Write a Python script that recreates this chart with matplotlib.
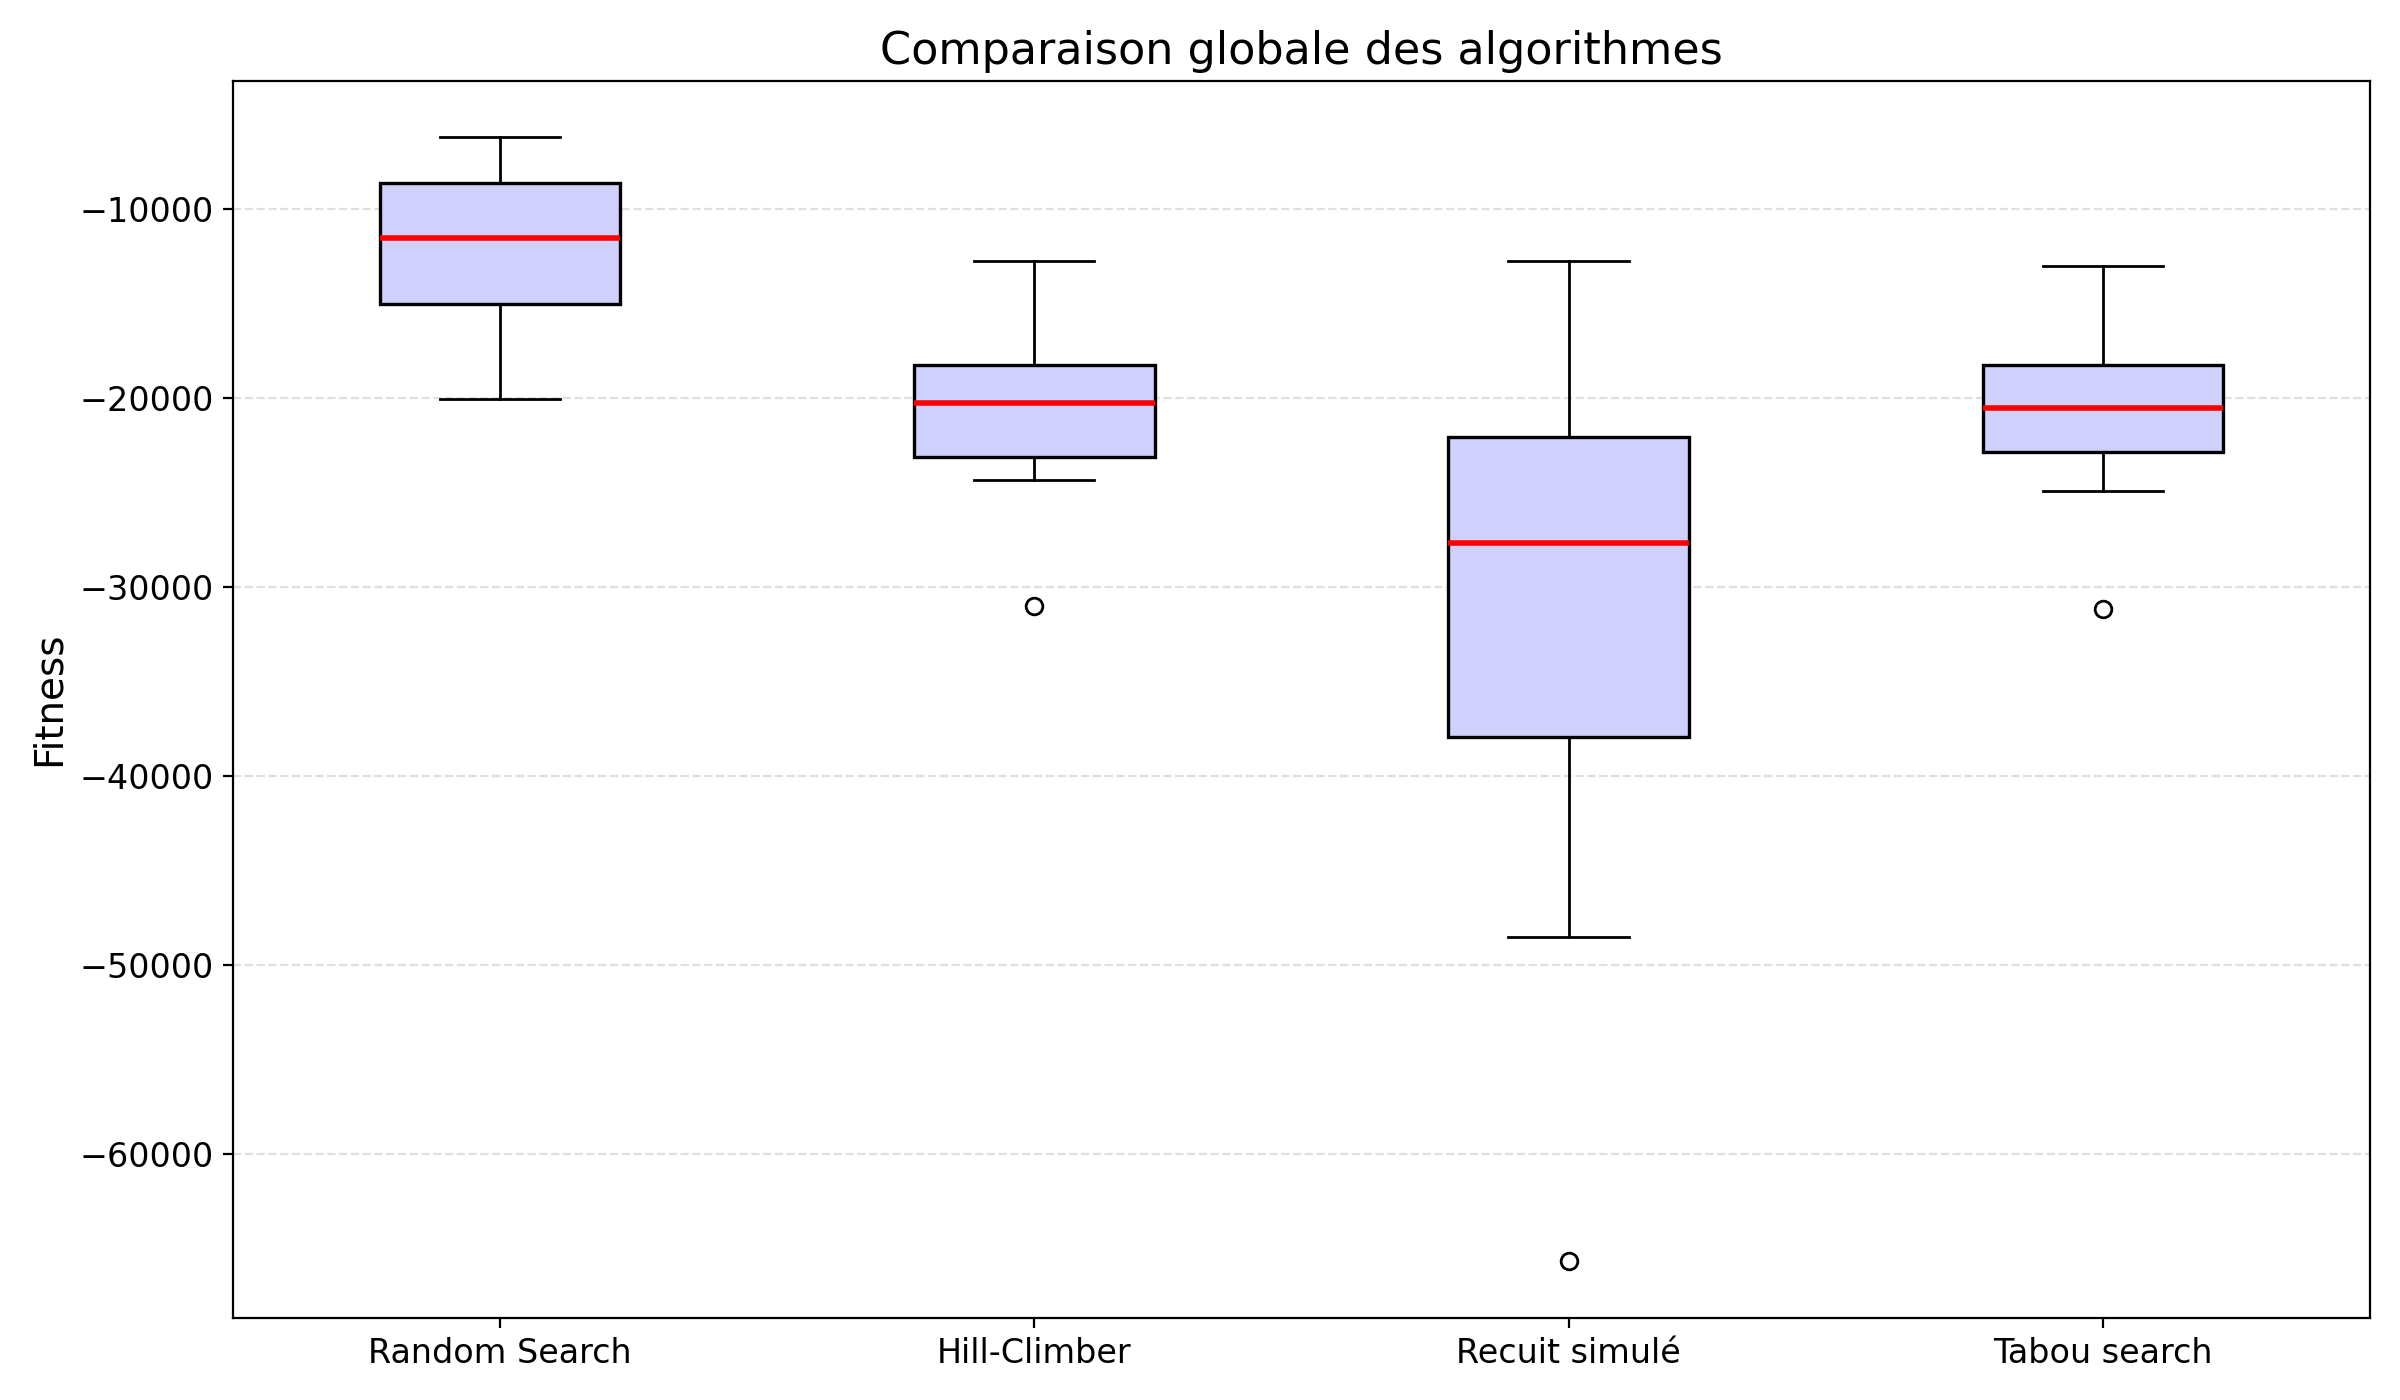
import matplotlib
matplotlib.use("Agg")
import matplotlib.pyplot as plt

algorithms = ["Random Search", "Hill-Climber", "Recuit simulé", "Tabou search"]
whisker_high = [-6190, -12750, -12750, -13000]
q3 = [-8620, -18270, -22080, -18270]
median = [-11540, -20290, -27670, -20530]
q1 = [-15020, -23130, -37960, -22880]
whisker_low = [-20050, -24340, -48490, -24910]
outliers = [[], [-30990], [-65670], [-31150]]

stats = []
for i, name in enumerate(algorithms):
    stats.append({
        "label": name,
        "whishi": whisker_high[i],
        "q3": q3[i],
        "med": median[i],
        "q1": q1[i],
        "whislo": whisker_low[i],
        "fliers": outliers[i],
    })

fig, ax = plt.subplots(figsize=(12, 7), dpi=200)
ax.bxp(stats, patch_artist=True, widths=0.45,
       boxprops=dict(facecolor="#d0d0fc", edgecolor="black", linewidth=1.2),
       medianprops=dict(color="red", linewidth=2),
       whiskerprops=dict(color="black", linewidth=1),
       capprops=dict(color="black", linewidth=1),
       flierprops=dict(marker="o", markerfacecolor="none", markeredgecolor="black", markersize=6))
ax.set_title("Comparaison globale des algorithmes", fontsize=16)
ax.set_ylabel("Fitness", fontsize=14)
ax.tick_params(labelsize=12)
ax.yaxis.grid(True, linestyle="--", alpha=0.4)
ax.set_axisbelow(True)
fig.tight_layout()
fig.savefig("out.png", dpi=200)
